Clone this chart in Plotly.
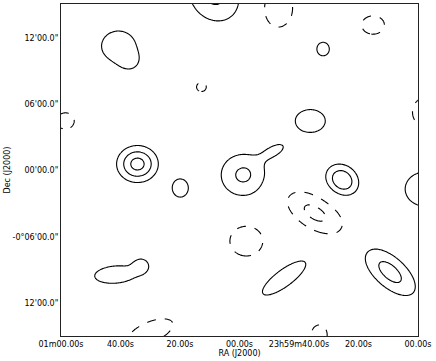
## Contour map of a radio field (RA/Dec)
import numpy as np
import plotly.graph_objects as go

# Sources: RA offset in seconds of time from 0h, Dec in arcmin,
# peak (in contour units), major/minor width in arcmin, position angle in degrees
src_ra = [40.7, 36.7, 8.5, -13.0, -44.9, -28.1, 12.8, 58.5, -62.0, -23.8, 34.3, 19.9,
          -1.3, -12.0, -34.5, -62.4, -25.4, -2.3, -15.0, -50.6, -26.8, 41.7, 33.0, 29.9]
src_dec = [11.25, 9.81, 15.86, 14.69, 13.15, 10.98, 7.55, 4.48, 5.29, 4.48, 0.59, -1.58,
           -0.40, 1.85, -0.85, -1.67, -3.84, -6.37, -9.71, -9.17, -14.86, -9.4, -8.53, -14.59]
src_peak = [1.55, 0.8, 2.23, -1.9, -1.9, 1.9, -1.9, -1.9, -1.9, 1.9, 3.4, 1.9,
            2.2, 1.3, 2.9, 1.9, -2.26, -1.9, 1.9, 2.38, -1.9, 1.6, 1.3, -1.9]
src_major = [1.51, 0.70, 1.91, 1.53, 0.84, 0.54, 0.36, 0.65, 1.10, 1.11, 1.12, 0.72,
             1.48, 0.95, 1.05, 1.48, 2.11, 1.22, 2.00, 2.05, 0.80, 1.80, 0.52, 1.80]
src_minor = [1.45, 0.70, 1.57, 1.07, 0.73, 0.46, 0.36, 0.65, 0.85, 0.91, 1.07, 0.59,
             1.48, 0.47, 0.88, 1.36, 1.09, 1.19, 0.65, 0.99, 0.59, 0.80, 0.52, 0.80]
src_pa = [90, 0, 27, 0, 90, 0, 0, 0, 0, 90, 90, 0,
          0, -60, 40, 90, 55, 90, -51, 45, 0, 95, 0, -65]

# Axis ticks
ra_ticks = [60, 40, 20, 0, -20, -40, -60]
ra_labels = ['01m00.00s', '40.00s', '20.00s', '00.00s', '23h59m40.00s', '20.00s', '00.00s']
dec_ticks = [12, 6, 0, -6, -12]
dec_labels = ["12'00.0\"", "06'00.0\"", "00'00.0\"", "-0\u00b006'00.0\"", "12'00.0\""]

# Build the brightness map on a grid
ra_grid = np.linspace(64, -64, 420)
dec_grid = np.linspace(-16, 16.2, 380)
X, Y = np.meshgrid(ra_grid, dec_grid)
field = np.zeros_like(X)
for ra, dec, peak, maj, mnr, pa in zip(src_ra, src_dec, src_peak, src_major, src_minor, src_pa):
    t = np.radians(pa)
    dx = (X - ra) * 0.25  # east offset in arcmin
    dy = Y - dec
    u = dx * np.sin(t) + dy * np.cos(t)
    v = dx * np.cos(t) - dy * np.sin(t)
    field += peak * np.exp(-0.5 * (u**2 / maj**2 + v**2 / mnr**2))

black = [[0, 'black'], [1, 'black']]
fig = go.Figure()
# positive levels: solid
fig.add_trace(go.Contour(x=ra_grid, y=dec_grid, z=field, contours_coloring='lines',
                         contours=dict(start=1, end=3, size=1), colorscale=black,
                         showscale=False, line=dict(width=1.1), hoverinfo='skip'))
# negative levels: dashed
fig.add_trace(go.Contour(x=ra_grid, y=dec_grid, z=-field, contours_coloring='lines',
                         contours=dict(start=1, end=2, size=1), colorscale=black,
                         showscale=False, line=dict(width=1.1, dash='dash'), hoverinfo='skip'))

fig.update_layout(width=436, height=361, margin=dict(l=60.5, r=17.5, t=4, b=25),
                  paper_bgcolor='white', plot_bgcolor='white',
                  font=dict(family='DejaVu Sans', size=8, color='black'))
fig.update_xaxes(range=[60, -60], tickvals=ra_ticks, ticktext=ra_labels,
                 showgrid=False, zeroline=False, showline=True, mirror=True,
                 linecolor='#222', linewidth=1, ticks='', automargin=False,
                 title=dict(text='RA (J2000)', standoff=0, font=dict(size=8)))
fig.update_yaxes(range=[-14.95, 15.05], tickvals=dec_ticks, ticktext=dec_labels,
                 showgrid=False, zeroline=False, showline=True, mirror=True,
                 linecolor='#222', linewidth=1, ticks='', automargin=False,
                 title=dict(text='Dec (J2000)', standoff=0, font=dict(size=8)))

# drop the page's default body margin so the figure sits at the window corner
fig.write_html("out.html", config={'displayModeBar': False},
               post_script="document.body.style.margin='0';")
